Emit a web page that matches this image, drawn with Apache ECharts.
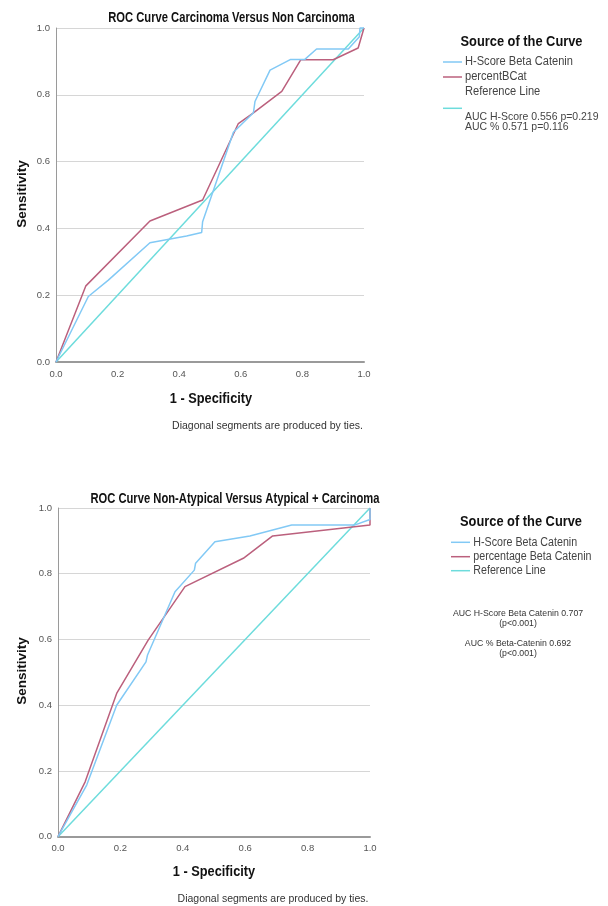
<!DOCTYPE html>
<html>
<head>
<meta charset="utf-8">
<script src="https://cdn.jsdelivr.net/npm/echarts@6/dist/echarts.min.js"></script>
<style>html,body{margin:0;padding:0;background:#fff}#c{width:608px;height:906px}</style>
</head>
<body>
<div id="c"></div>
<script>
// ---- data ----
const ticks = [0, 0.2, 0.4, 0.6, 0.8, 1.0];
const top_hscore = [[0,0],[0.105,0.196],[0.17,0.245],[0.305,0.357],[0.424,0.377],[0.473,0.388],[0.476,0.42],[0.576,0.688],[0.641,0.746],[0.646,0.78],[0.695,0.874],[0.762,0.906],[0.808,0.906],[0.846,0.937],[0.949,0.937],[0.985,0.974],[0.987,1.0],[1,1]];
const top_percent = [[0,0],[0.097,0.228],[0.305,0.422],[0.476,0.485],[0.592,0.714],[0.641,0.746],[0.733,0.81],[0.795,0.905],[0.90,0.905],[0.981,0.94],[1,1]];
const bot_hscore = [[0,0],[0.092,0.157],[0.188,0.40],[0.282,0.532],[0.287,0.553],[0.375,0.745],[0.437,0.811],[0.441,0.832],[0.503,0.897],[0.615,0.915],[0.749,0.948],[0.95,0.948],[1.0,0.965],[1,1]];
const bot_percent = [[0,0],[0.087,0.167],[0.188,0.436],[0.289,0.598],[0.407,0.761],[0.594,0.847],[0.688,0.915],[1.0,0.948],[1,1]];
const reference = [[0,0],[1,1]];
const topTitle = "ROC Curve Carcinoma Versus Non Carcinoma";
const botTitle = "ROC Curve Non-Atypical Versus Atypical + Carcinoma";
const topLegend = ["H-Score Beta Catenin", "percentBCat", "Reference Line"];
const botLegend = ["H-Score Beta Catenin", "percentage Beta Catenin", "Reference Line"];
const topAUC = ["AUC H-Score 0.556 p=0.219", "AUC % 0.571 p=0.116"];
const botAUC = ["AUC H-Score Beta Catenin 0.707", "(p<0.001)", "AUC % Beta-Catenin 0.692", "(p<0.001)"];
const legendHeader = "Source of the Curve";
const xName = "1 - Specificity", yName = "Sensitivity";
const footnote = "Diagonal segments are produced by ties.";

const C_BLUE = '#82c9f5', C_RED = '#bb607d', C_CYAN = '#6ddcdc';
const F = "'Liberation Sans',Arial,Helvetica,sans-serif";

function axisX(gi){
  return {gridIndex:gi,type:'value',min:0,max:1,interval:0.2,
    axisLine:{show:true,lineStyle:{color:'#9a9a9a',width:2}},axisTick:{show:false},
    splitLine:{show:false},
    axisLabel:{color:'#555',fontSize:9.5,fontFamily:F,margin:7,formatter:v=>v.toFixed(1)}};
}
function axisY(gi){
  return {gridIndex:gi,type:'value',min:0,max:1,interval:0.2,
    axisLine:{show:true,lineStyle:{color:'#9a9a9a',width:1}},axisTick:{show:false},
    splitLine:{show:true,lineStyle:{color:'#d6d6d6',width:1}},
    axisLabel:{color:'#555',fontSize:9.5,fontFamily:F,margin:6,formatter:v=>v.toFixed(1)}};
}
function line(gi,data,color){
  return {type:'line',xAxisIndex:gi,yAxisIndex:gi,data:data,showSymbol:false,symbol:'none',
    lineStyle:{color:color,width:1.5},animation:false,clip:false};
}
function T(x,y,s,size,o){
  o=o||{};
  return {type:'text',x:x,y:y,rotation:o.rot||0,scaleX:o.sx||1,scaleY:o.sy||1,
    style:{text:s,fontSize:size,fontFamily:F,fontWeight:o.bold?'bold':'normal',fill:o.color||'#333',
    textAlign:o.align||'left',textVerticalAlign:'middle'}};
}
function seg(x1,x2,y,color){
  return {type:'line',shape:{x1:x1,y1:y,x2:x2,y2:y},style:{stroke:color,lineWidth:1.5}};
}
const g = [];
// titles
g.push(T(231.5,18,topTitle,14,{bold:true,align:'center',sx:0.8,color:'#111'}));
g.push(T(235,499,botTitle,14,{bold:true,align:'center',sx:0.8,color:'#111'}));
// axis names
g.push(T(211,399,xName,14.5,{bold:true,align:'center',sx:0.88,color:'#111'}));
g.push(T(214,872,xName,14.5,{bold:true,align:'center',sx:0.88,color:'#111'}));
g.push(T(22,194,yName,13.5,{bold:true,align:'center',rot:Math.PI/2,color:'#111'}));
g.push(T(22,671,yName,13.5,{bold:true,align:'center',rot:Math.PI/2,color:'#111'}));
g.push(T(267.5,426,footnote,10.5,{align:'center',color:'#333'}));
g.push(T(273,899,footnote,10.5,{align:'center',color:'#333'}));
// legend top
g.push(T(521.5,41.5,legendHeader,15,{bold:true,align:'center',sx:0.856,color:'#111'}));
g.push(seg(443,462,62,C_BLUE)); g.push(seg(443,462,77,C_RED)); g.push(seg(443,462,108.3,C_CYAN));
[62,76.5,91.5].forEach((y,i)=>g.push(T(465,y,topLegend[i],12,{sx:0.925,color:'#444'})));
[116.5,127.3].forEach((y,i)=>g.push(T(465,y,topAUC[i],11.5,{sx:0.91,color:'#444'})));
// legend bottom
g.push(T(521,521.7,legendHeader,15,{bold:true,align:'center',sx:0.856,color:'#111'}));
g.push(seg(451,470,542.3,C_BLUE)); g.push(seg(451,470,556.7,C_RED)); g.push(seg(451,470,570.7,C_CYAN));
[542.3,556.7,570.7].forEach((y,i)=>g.push(T(473.3,y,botLegend[i],12,{sx:0.89,color:'#444'})));
[613.3,623.3,643.3,653.3].forEach((y,i)=>g.push(T(518,y,botAUC[i],9.5,{align:'center',sx:0.92,color:'#333'})));

const chart = echarts.init(document.getElementById('c'),null,{renderer:'canvas'});
chart.setOption({
  animation:false,
  backgroundColor:'#fff',
  grid:[{left:56,top:28,width:308,height:334},{left:58,top:508,width:312,height:328.7}],
  xAxis:[axisX(0),axisX(1)],
  yAxis:[axisY(0),axisY(1)],
  series:[
    line(0,reference,C_CYAN), line(0,top_percent,C_RED), line(0,top_hscore,C_BLUE),
    line(1,reference,C_CYAN), line(1,bot_percent,C_RED), line(1,bot_hscore,C_BLUE)
  ],
  graphic:g
});
</script>
</body>
</html>
